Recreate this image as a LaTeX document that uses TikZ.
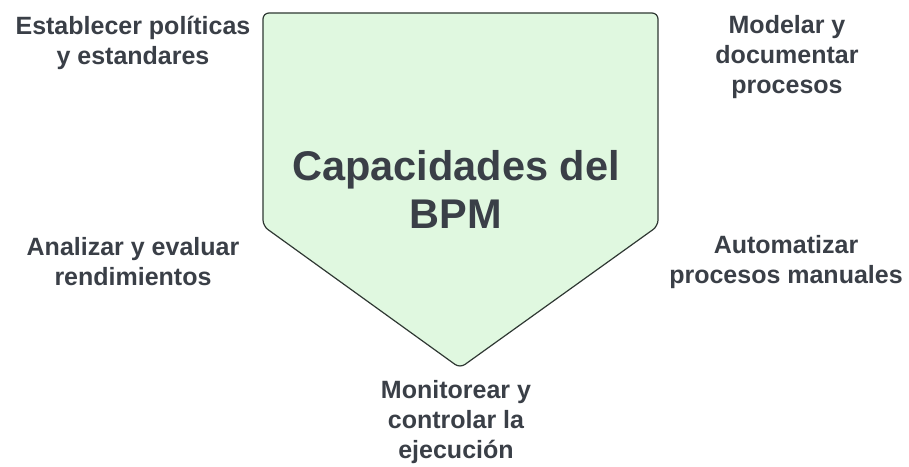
\documentclass[tikz,border=0pt]{standalone}
\usepackage{fontspec}
\setmainfont{Liberation Sans}
\usetikzlibrary{positioning}
\definecolor{txt}{HTML}{3A3F47}
\definecolor{leaf}{HTML}{E0F8E0}
\definecolor{rim}{HTML}{2F3833}
\begin{document}
\begin{tikzpicture}[x=1pt,y=1pt,
      caption/.style={text=txt, align=center, inner sep=0pt, font=\fontsize{25}{30}\selectfont\bfseries},
      title/.style={text=txt, align=center, inner sep=0pt, font=\fontsize{41.5}{48}\selectfont\bfseries}]

\useasboundingbox (0,0) rectangle (909,466);

\coordinate (tl) at (263,453);
\coordinate (tr) at (658,453);
\coordinate (br) at (658,240);
\coordinate (tip) at (460,98);
\coordinate (bl) at (263,240);
\draw[fill=leaf, draw=rim, line width=1.2pt, rounded corners=6pt] (tl) -- (tr) -- (br) -- (tip) -- (bl) -- cycle;

\node[title] (bpm) at (456,277) {Capacidades del\\BPM};

\node[caption] (c1) at (133,423) {Establecer políticas\\y estandares};
\node[caption] (c2) at (787,409) {Modelar y\\documentar\\procesos};
\node[caption] (c3) at (133,204) {Analizar y evaluar\\rendimientos};
\node[caption] (c4) at (786,204) {Automatizar\\procesos manuales};
\node[caption] (c5) at (456,44) {Monitorear y\\controlar la\\ejecución};

\end{tikzpicture}
\end{document}
